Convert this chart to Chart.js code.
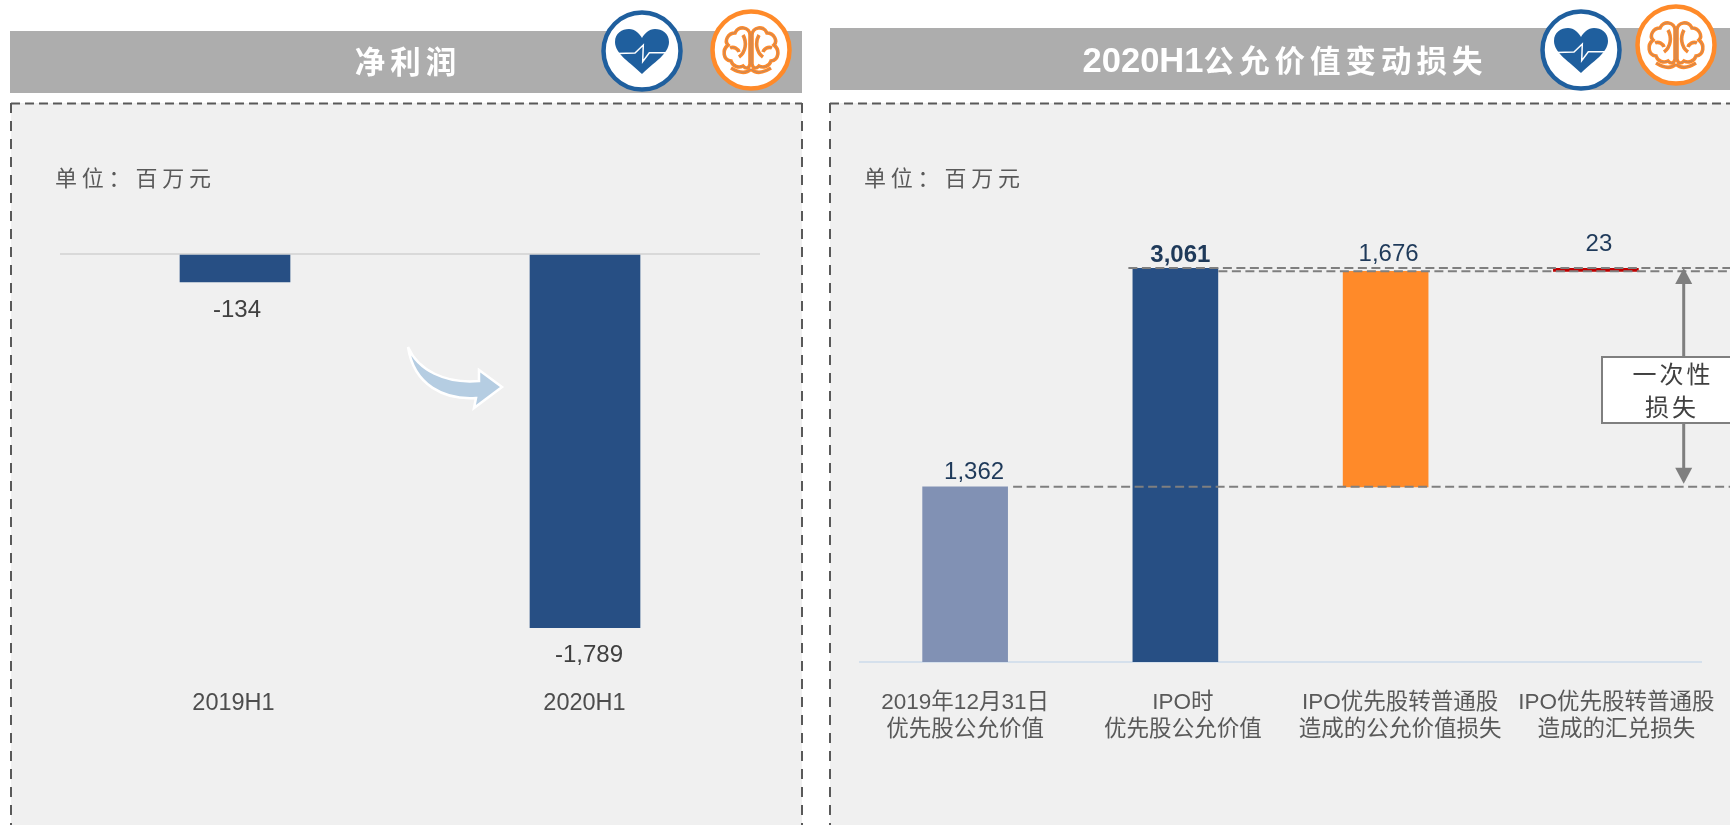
<!DOCTYPE html>
<html lang="zh">
<head>
<meta charset="utf-8">
<title>净利润与公允价值变动损失</title>
<script src="https://cdn.jsdelivr.net/npm/chart.js@4/dist/chart.umd.js"></script>
<style>
  html,body{margin:0;padding:0;background:#fff;width:1730px;height:825px;overflow:hidden;}
  body{position:relative;font-family:"Liberation Sans","Noto Sans CJK SC",sans-serif;}
  .abs{position:absolute;}
  .hdr{background:#adadad;}
  .panel{background:#f0f0f0;}
  .title{color:#fff;font-weight:700;white-space:nowrap;transform:translate(-50%,-50%);line-height:1;}
  .cn{font-size:30.5px;letter-spacing:5px;}
  .en{font-size:34.5px;}
  .unit{color:#595959;font-size:22px;letter-spacing:4.8px;white-space:nowrap;transform:translateY(-50%);line-height:1;}
  canvas{position:absolute;display:block;}
  svg{position:absolute;left:0;top:0;}
  .box{background:#fff;border:2px solid #7f7f7f;box-sizing:border-box;}
  .boxt{color:#404040;font-size:24px;letter-spacing:3px;white-space:nowrap;transform:translate(-50%,-50%);line-height:1;}
</style>
</head>
<body>
<div class="abs hdr" style="left:10px;top:31px;width:792px;height:62px"></div>
<div class="abs hdr" style="left:830px;top:28px;width:900px;height:62px"></div>
<div class="abs panel" style="left:11px;top:103px;width:791px;height:722px"></div>
<div class="abs panel" style="left:830px;top:103px;width:900px;height:722px"></div>

<svg width="1730" height="825" viewBox="0 0 1730 825">
  <g stroke="#595959" stroke-width="2" fill="none">
    <line x1="11" y1="103.5" x2="802" y2="103.5" stroke-dasharray="9 5"/>
    <line x1="11" y1="103" x2="11" y2="825" stroke-dasharray="10 8"/>
    <line x1="802" y1="103" x2="802" y2="825" stroke-dasharray="10 8"/>
    <line x1="830" y1="103.5" x2="1730" y2="103.5" stroke-dasharray="9 5"/>
    <line x1="830" y1="103" x2="830" y2="825" stroke-dasharray="10 8"/>
  </g>
</svg>

<canvas id="netProfit" width="815" height="825" style="left:0;top:0;width:815px;height:825px"></canvas>
<canvas id="fairValue" width="910" height="825" style="left:820px;top:0;width:910px;height:825px"></canvas>

<svg width="1730" height="825" viewBox="0 0 1730 825">
  <defs>
    <g id="heartIcon">
      <circle r="38.5" fill="#fff" stroke="#1f5f9e" stroke-width="4.5"/>
      <path d="M0,23 C-11,12 -27,3 -27,-9 C-27,-18 -20,-22 -13,-22 C-7,-22 -2,-17 0,-13 C2,-17 7,-22 13,-22 C20,-22 27,-18 27,-9 C27,3 11,12 0,23 Z" fill="#1f5f9e"/>
      <path d="M-25,2.5 L-7,2 L1.3,-6 L0.7,10.6 L7.3,1.7 L26,1.7" fill="none" stroke="#fff" stroke-width="1.5"/>
    </g>
    <g id="brainHalf" fill="none">
      <path d="M1,-15 C1,-23 13,-25 16,-17 C23,-17 27,-9 23,-5 C29,0 28,10 20,11 C18,17 12,18 8,16 C5,19 2,19 1,14 Z"/>
      <path d="M8,-15 C4,-8 5,2 12,7"/>
      <path d="M21,-2 C17,-4 13,-1 12,2"/>
      <path d="M0,19 C5,24 12,23 20,18"/>
    </g>
    <g id="brainIcon">
      <circle r="38.5" fill="#fff" stroke="#ff8a29" stroke-width="4.5"/>
      <g stroke="#ff8a29" stroke-width="3.6">
        <use href="#brainHalf"/><use href="#brainHalf" transform="scale(-1,1)"/>
      </g>
      <g stroke="#7d86a0" stroke-width="0.5">
        <use href="#brainHalf"/><use href="#brainHalf" transform="scale(-1,1)"/>
      </g>
    </g>
  </defs>
  <use href="#heartIcon" x="642" y="51"/>
  <use href="#brainIcon" x="751" y="50"/>
  <use href="#heartIcon" x="1581" y="50"/>
  <use href="#brainIcon" x="1676" y="45"/>
  <path d="M408,347 C418,370 445,384 479,381 L479,370 L502,387 L474,408 L476,398 C445,400 414,386 408,347 Z" fill="#b5cde2" stroke="#fff" stroke-width="2.5"/>
</svg>

<div class="abs title cn" style="left:408px;top:62px">净利润</div>
<div class="abs title" style="left:1285px;top:60px"><span class="en">2020H1</span><span class="cn">公允价值变动损失</span></div>
<div class="abs unit" style="left:55px;top:179px">单位：百万元</div>
<div class="abs unit" style="left:864px;top:179px">单位：百万元</div>

<div class="abs box" style="left:1601px;top:356px;width:140px;height:68px"></div>
<div class="abs boxt" style="left:1673px;top:375px">一次性</div>
<div class="abs boxt" style="left:1672px;top:408px">损失</div>

<script>
const npCategories = ['2019H1', '2020H1'];
const npValues = [-134, -1789];
const npLabelColor = '#404040';

const fvCategories = [
  ['2019年12月31日', '优先股公允价值'],
  ['IPO时', '优先股公允价值'],
  ['IPO优先股转普通股', '造成的公允价值损失'],
  ['IPO优先股转普通股', '造成的汇兑损失']
];
const fvValues = [1362, 3061, 1676, 23];
const fvBases = [0, 0, 1362, 3038];
const fvColors = ['#8191b4', '#274f84', '#ff8a29', '#c00000'];

const FONT = '"Liberation Sans","Noto Sans CJK SC",sans-serif';
const fmt = v => v.toLocaleString('en-US');

function shiftTicks(shifts) {
  return scale => {
    if (scale._shifted) return;
    scale._shifted = true;
    const orig = scale.getPixelForTick.bind(scale);
    scale.getPixelForTick = i => orig(i) + (shifts[i] || 0);
  };
}

const npLabels = {
  id: 'npLabels',
  afterDatasetsDraw(chart) {
    const { ctx } = chart;
    const bars = chart.getDatasetMeta(0).data;
    const dx = [2, 4], dy = [28, 28];
    ctx.save();
    ctx.font = '24px ' + FONT;
    ctx.fillStyle = npLabelColor;
    ctx.textAlign = 'center';
    ctx.textBaseline = 'middle';
    npValues.forEach((v, i) => ctx.fillText(fmt(v), bars[i].x + dx[i], bars[i].y + dy[i]));
    ctx.restore();
  }
};

const fvOverlay = {
  id: 'fvOverlay',
  afterDatasetsDraw(chart) {
    const { ctx, scales: { y } } = chart;
    const bars = chart.getDatasetMeta(0).data;
    const R = 910;
    const yStart = y.getPixelForValue(fvValues[0]);
    const yPeak = y.getPixelForValue(fvValues[1]);
    const yFair = y.getPixelForValue(fvBases[3]);

    ctx.save();
    ctx.strokeStyle = '#7f7f7f';
    ctx.lineWidth = 2;
    ctx.setLineDash([9, 4.5]);
    [[bars[0].x + 48, yStart], [bars[1].x - 47, yPeak - 0.5], [bars[1].x + 43, yFair]].forEach(([x, yy]) => {
      ctx.beginPath(); ctx.moveTo(x, yy); ctx.lineTo(R, yy); ctx.stroke();
    });
    ctx.setLineDash([]);

    const ax = 863.7;
    ctx.lineWidth = 3;
    ctx.beginPath(); ctx.moveTo(ax, yPeak + 6); ctx.lineTo(ax, yStart - 6); ctx.stroke();
    ctx.fillStyle = '#7f7f7f';
    [[yPeak - 0.5, 16], [yStart - 3, -16]].forEach(([tip, h]) => {
      ctx.beginPath(); ctx.moveTo(ax, tip); ctx.lineTo(ax - 8.5, tip + h); ctx.lineTo(ax + 8.5, tip + h); ctx.closePath(); ctx.fill();
    });

    const dx = [9, 5, 3, 3], dy = [-14, -13, -17, -24];
    ctx.fillStyle = '#1f3a5a';
    ctx.textAlign = 'center';
    ctx.textBaseline = 'middle';
    fvValues.forEach((v, i) => {
      ctx.font = (i === 1 ? 'bold ' : '') + '24px ' + FONT;
      ctx.fillText(fmt(v), bars[i].x + dx[i], bars[i].y + dy[i]);
    });
    ctx.restore();
  }
};

new Chart(document.getElementById('netProfit'), {
  type: 'bar',
  data: {
    labels: npCategories,
    datasets: [{ data: npValues, backgroundColor: '#274f84', barThickness: 110 }]
  },
  plugins: [npLabels],
  options: {
    responsive: false,
    animation: false,
    events: [],
    layout: { padding: { left: 60, right: 55, top: 254, bottom: 55 } },
    plugins: { legend: { display: false }, tooltip: { enabled: false } },
    scales: {
      x: {
        grid: { display: false, drawTicks: false },
        border: { display: false },
        afterFit: s => { s.height = 90; },
        afterUpdate: shiftTicks([-1.5, -0.5]),
        ticks: { color: '#4d4d4d', font: { family: FONT, size: 23.5 }, padding: 9.5, maxRotation: 0, autoSkip: false }
      },
      y: {
        min: -2040, max: 0,
        afterFit: s => { s.width = 0; },
        border: { display: false },
        grid: { drawTicks: false, lineWidth: 2, color: c => (c.tick && c.tick.value === 0 ? '#d9d9d9' : 'rgba(0,0,0,0)') },
        ticks: { display: false, stepSize: 2040 }
      }
    }
  }
});

new Chart(document.getElementById('fairValue'), {
  type: 'bar',
  data: {
    labels: fvCategories,
    datasets: [{
      data: fvValues.map((v, i) => [fvBases[i], fvBases[i] + v]),
      backgroundColor: fvColors,
      barThickness: 85
    }]
  },
  plugins: [fvOverlay],
  options: {
    responsive: false,
    animation: false,
    events: [],
    layout: { padding: { left: 40, right: 29, top: 200, bottom: 73 } },
    plugins: { legend: { display: false }, tooltip: { enabled: false } },
    scales: {
      x: {
        grid: { display: false, drawTicks: false },
        border: { display: true, color: '#d5e0ec', width: 2 },
        afterFit: s => { s.height = 90; },
        afterUpdate: shiftTicks([0, 7.5, 14.5, 20.5]),
        ticks: { color: '#595959', font: { family: FONT, size: 22.5, lineHeight: 1.2 }, padding: 27.5, maxRotation: 0, autoSkip: false }
      },
      y: { display: false, min: 0, max: 3593 }
    }
  }
});
</script>
</body>
</html>
